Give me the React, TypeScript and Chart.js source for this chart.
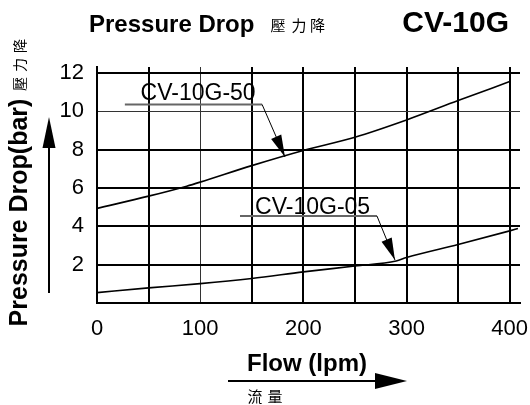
import React, { useEffect, useRef } from "react";
import { Chart, registerables } from "chart.js";

Chart.register(...registerables);

// ---- data ----
const flow50 = [0, 50, 87, 100, 150, 200, 250, 300, 350, 400];
const cv50 = [4.93, 5.57, 6.09, 6.3, 7.16, 7.95, 8.64, 9.54, 10.55, 11.54];
const flow05 = [0, 50, 100, 150, 200, 250, 290, 300, 350, 400, 408];
const cv05 = [0.54, 0.79, 1.01, 1.28, 1.62, 1.93, 2.19, 2.37, 3.05, 3.76, 3.88];
const xTicks = [0, 50, 100, 150, 200, 250, 300, 350, 400];
const xLabelTicks = [0, 100, 200, 300, 400];
const yTicks = [0, 2, 4, 6, 8, 10, 12];
const yLabelTicks = [2, 4, 6, 8, 10, 12];

const SANS = "'Liberation Sans', Arial, Helvetica, sans-serif";
const CJK = "'Noto Sans CJK TC', 'Noto Sans CJK SC', sans-serif";

// annotation callouts in data units
const callouts = [
  { text: "CV-10G-50", tx: 98, ty: 11.0, ux0: 27, ux1: 160, uy: 10.35, px: 182.2, py: 7.61 },
  { text: "CV-10G-05", tx: 209, ty: 5.08, ux0: 138.6, ux1: 271.4, uy: 4.53, px: 288.8, py: 2.24 },
];

function arrowHead(ctx: CanvasRenderingContext2D, x0: number, y0: number, x1: number, y1: number, len: number, half: number) {
  const ang = Math.atan2(y1 - y0, x1 - x0);
  const bx = x1 - len * Math.cos(ang);
  const by = y1 - len * Math.sin(ang);
  const nx = -Math.sin(ang) * half;
  const ny = Math.cos(ang) * half;
  ctx.beginPath();
  ctx.moveTo(x1, y1);
  ctx.lineTo(bx + nx, by + ny);
  ctx.lineTo(bx - nx, by - ny);
  ctx.closePath();
  ctx.fill();
}

const decorPlugin = {
  id: "decor",
  afterDraw(chart: any) {
    const ctx: CanvasRenderingContext2D = chart.ctx;
    const xs = chart.scales.x;
    const ys = chart.scales.y;
    const ca = chart.chartArea;
    ctx.save();
    ctx.fillStyle = "#000";
    ctx.strokeStyle = "#000";

    // callouts
    for (const c of callouts) {
      const ux0 = xs.getPixelForValue(c.ux0);
      const ux1 = xs.getPixelForValue(c.ux1);
      const uy = ys.getPixelForValue(c.uy);
      const px = xs.getPixelForValue(c.px);
      const py = ys.getPixelForValue(c.py);
      ctx.font = `23px ${SANS}`;
      ctx.textAlign = "center";
      ctx.textBaseline = "alphabetic";
      ctx.fillStyle = "#000";
      ctx.fillText(c.text, xs.getPixelForValue(c.tx), ys.getPixelForValue(c.ty) + 8.2);
      ctx.strokeStyle = "#666";
      ctx.lineWidth = 2;
      ctx.beginPath();
      ctx.moveTo(ux0, uy);
      ctx.lineTo(ux1, uy);
      ctx.stroke();
      ctx.strokeStyle = "#000";
      ctx.lineWidth = 1;
      ctx.beginPath();
      ctx.moveTo(ux1, uy);
      ctx.lineTo(px, py);
      ctx.stroke();
      arrowHead(ctx, ux1, uy, px, py, 22, 5.5);
    }

    // top titles
    ctx.textBaseline = "alphabetic";
    ctx.textAlign = "left";
    ctx.font = `bold 24px ${SANS}`;
    ctx.fillText("Pressure Drop", ca.left - 8, 31.5);
    ctx.font = `15px ${CJK}`;
    ctx.textAlign = "center";
    ctx.textBaseline = "middle";
    const tch = ["壓", "力", "降"];
    const tcx = [278, 299, 317.5];
    tch.forEach((ch, i) => ctx.fillText(ch, tcx[i], 25));
    ctx.textBaseline = "alphabetic";
    ctx.textAlign = "right";
    ctx.font = `bold 30px ${SANS}`;
    ctx.fillText("CV-10G", 509, 32);

    // y title
    ctx.save();
    ctx.translate(27, 212.5);
    ctx.rotate(-Math.PI / 2);
    ctx.textAlign = "center";
    ctx.textBaseline = "alphabetic";
    ctx.font = `bold 25px ${SANS}`;
    ctx.fillText("Pressure Drop(bar)", 0, 0);
    ctx.restore();
    // y chinese
    ctx.save();
    ctx.translate(20, 65);
    ctx.rotate(-Math.PI / 2);
    ctx.textAlign = "center";
    ctx.textBaseline = "middle";
    ctx.font = `14px ${CJK}`;
    ["壓", "力", "降"].forEach((ch, i) => ctx.fillText(ch, -19 + i * 19, 0));
    ctx.restore();
    // y arrow
    ctx.lineWidth = 2;
    ctx.beginPath();
    ctx.moveTo(49, 293);
    ctx.lineTo(49, 140);
    ctx.stroke();
    arrowHead(ctx, 49, 293, 49, 117, 31, 6.5);

    // x title
    ctx.textAlign = "center";
    ctx.textBaseline = "alphabetic";
    ctx.font = `bold 24px ${SANS}`;
    ctx.fillText("Flow (lpm)", 307, 371);
    ctx.lineWidth = 2;
    ctx.beginPath();
    ctx.moveTo(228, 381);
    ctx.lineTo(380, 381);
    ctx.stroke();
    arrowHead(ctx, 228, 381, 407, 381, 32, 8);
    ctx.font = `15px ${CJK}`;
    ctx.textBaseline = "middle";
    ctx.fillText("流", 255, 396);
    ctx.fillText("量", 275, 396);
    ctx.restore();
  },
};

export default function App() {
  const ref = useRef<HTMLCanvasElement | null>(null);
  useEffect(() => {
    document.body.style.margin = "0";
    const canvas = ref.current!;
    const chart = new Chart(canvas, {
      type: "line",
      data: {
        datasets: [
          {
            label: "CV-10G-50",
            data: flow50.map((x, i) => ({ x, y: cv50[i] })),
            borderColor: "#000",
            borderWidth: 1.6,
            pointRadius: 0,
            cubicInterpolationMode: "monotone",
            fill: false,
          },
          {
            label: "CV-10G-05",
            data: flow05.map((x, i) => ({ x, y: cv05[i] })),
            borderColor: "#000",
            borderWidth: 1.6,
            pointRadius: 0,
            cubicInterpolationMode: "monotone",
            fill: false,
          },
        ],
      },
      options: {
        responsive: false,
        animation: false,
        devicePixelRatio: 1,
        layout: { padding: { top: 67, right: 10, left: 0, bottom: 0 } },
        plugins: { legend: { display: false }, tooltip: { enabled: false }, title: { display: false } },
        scales: {
          x: {
            type: "linear",
            min: 0,
            max: 410,
            afterBuildTicks: (s: any) => {
              s.ticks = xTicks.map((v) => ({ value: v }));
            },
            afterFit: (s: any) => {
              s.height = 102;
              s.paddingLeft = 0;
              s.paddingRight = 0;
            },
            border: { display: true, color: "#000", width: 2 },
            grid: {
              color: (c: any) => (c.tick && c.tick.value === 100 ? "#333" : "#000"),
              lineWidth: (c: any) => (c.tick && c.tick.value === 100 ? 1 : 2),
              drawTicks: false,
            },
            ticks: {
              padding: 13,
              maxRotation: 0,
              autoSkip: false,
              color: "#000",
              font: { family: SANS, size: 22 },
              callback: (v: any) => (xLabelTicks.includes(Number(v)) ? String(v) : ""),
            },
          },
          y: {
            type: "linear",
            min: 0,
            max: 12.3,
            afterBuildTicks: (s: any) => {
              s.ticks = yTicks.map((v) => ({ value: v }));
            },
            afterFit: (s: any) => {
              s.width = 97;
              s.paddingTop = 0;
              s.paddingBottom = 0;
            },
            border: { display: true, color: "#000", width: 2 },
            grid: {
              color: (c: any) => (c.tick && c.tick.value === 10 ? "#333" : "#000"),
              lineWidth: (c: any) => (c.tick && c.tick.value === 10 ? 1 : 2),
              drawTicks: false,
            },
            ticks: {
              padding: 13,
              autoSkip: false,
              color: "#000",
              font: { family: SANS, size: 22 },
              callback: (v: any) => (yLabelTicks.includes(Number(v)) ? String(v) : ""),
            },
          },
        },
      },
      plugins: [decorPlugin],
    } as any);
    return () => chart.destroy();
  }, []);
  return (
    <div style={{ width: 530, height: 405, background: "#fff" }}>
      <canvas ref={ref} width={530} height={405} style={{ display: "block" }} />
    </div>
  );
}
